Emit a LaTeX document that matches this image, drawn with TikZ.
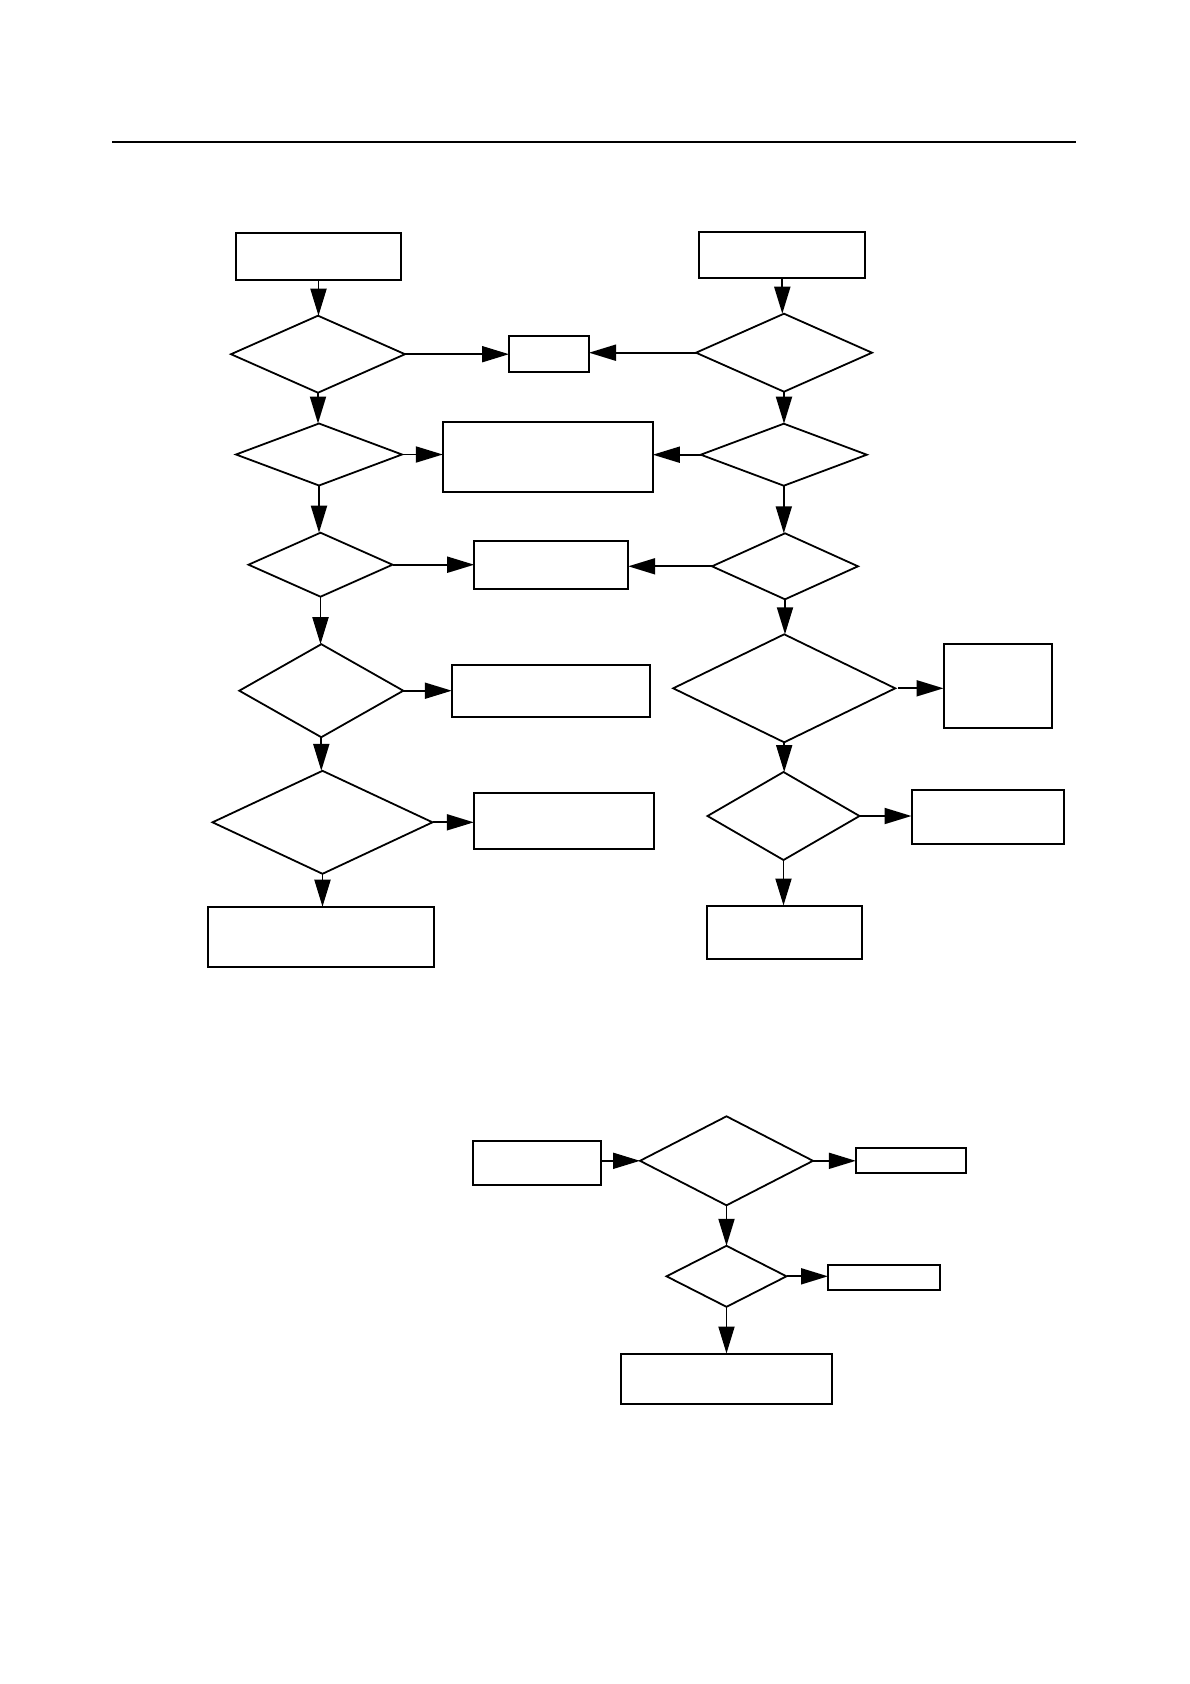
\documentclass[tikz,border=0pt]{standalone}
\usetikzlibrary{shapes.geometric,arrows.meta}
\begin{document}
\begin{tikzpicture}[x=1pt,y=-1pt,
  box/.style={draw,rectangle,line width=2pt,inner sep=0pt,outer sep=0pt},
  dia/.style={draw,diamond,line width=1.8pt,inner sep=0pt,outer sep=0pt},
  arr/.style={line width=1.9pt,-{Triangle[length=27pt,width=16pt]}}]
\useasboundingbox (0,0) rectangle (1190,1684);
% top rule
\coordinate (L0) at (112,142);
\coordinate (L1) at (1076,142);
\draw[line width=2.4pt] (L0) -- (L1);
% left column
\node[box,minimum width=165pt,minimum height=47pt] (A1) at (318.5,256.5) {};
\node[dia,minimum width=174pt,minimum height=77pt] (D1) at (318,354.2) {};
\node[dia,minimum width=166pt,minimum height=62pt] (D2) at (319,454.5) {};
\node[dia,minimum width=144pt,minimum height=64pt] (D3) at (320.5,564.7) {};
\node[dia,minimum width=164pt,minimum height=93pt] (D4) at (321.3,690.7) {};
\node[dia,minimum width=220pt,minimum height=103pt] (D5) at (322.5,822.3) {};
\node[box,minimum width=226pt,minimum height=60pt] (E1) at (321.3,936.7) {};
% middle boxes
\node[box,minimum width=80pt,minimum height=36pt] (S1) at (549,354.2) {};
\node[box,minimum width=210pt,minimum height=70pt] (B2) at (547.8,456.8) {};
\node[box,minimum width=154pt,minimum height=48pt] (B3) at (551.2,565) {};
\node[box,minimum width=198pt,minimum height=52pt] (B4) at (550.8,691) {};
\node[box,minimum width=180pt,minimum height=56pt] (B5) at (563.8,820.8) {};
% right column
\node[box,minimum width=166pt,minimum height=46pt] (A2) at (782.3,254.8) {};
\node[dia,minimum width=176pt,minimum height=78pt] (R1) at (784,352.7) {};
\node[dia,minimum width=166pt,minimum height=62pt] (R2) at (783.8,454.7) {};
\node[dia,minimum width=146pt,minimum height=66pt] (R3) at (785,566.3) {};
\node[dia,minimum width=222pt,minimum height=108pt] (R4) at (784.2,688.3) {};
\node[dia,minimum width=152pt,minimum height=88pt] (R5) at (783.5,816) {};
\node[box,minimum width=155pt,minimum height=53pt] (E2) at (784.3,932) {};
\node[box,minimum width=108pt,minimum height=84pt] (Q4) at (997.5,685.8) {};
\node[box,minimum width=152pt,minimum height=54pt] (Q5) at (987.5,816.8) {};
% bottom group
\node[box,minimum width=128pt,minimum height=44pt] (C1) at (536.5,1162.8) {};
\node[dia,minimum width=173pt,minimum height=89pt] (CD1) at (726.5,1160.8) {};
\node[box,minimum width=110pt,minimum height=25pt] (C2) at (910.8,1160.2) {};
\node[dia,minimum width=120pt,minimum height=61pt] (CD2) at (726.5,1276.3) {};
\node[box,minimum width=112pt,minimum height=25pt] (C3) at (884,1277.2) {};
\node[box,minimum width=211pt,minimum height=50pt] (C4) at (726.3,1378.5) {};
% left connectors
\draw[arr] (A1.south) -- (A1.south |- D1.north);
\draw[arr] (D1.south) -- (D1.south |- D2.north);
\draw[arr] (D2.south) -- (D2.south |- D3.north);
\draw[arr] (D3.south) -- (D3.south |- D4.north);
\draw[arr] (D4.south) -- (D4.south |- D5.north);
\draw[arr] (D5.south) -- (D5.south |- E1.north);
\draw[arr] (D1.east) -- (S1.west |- D1.east);
\draw[arr] (D2.east) -- (B2.west |- D2.east);
\draw[arr] (D3.east) -- (B3.west |- D3.east);
\draw[arr] (D4.east) -- (B4.west |- D4.east);
\draw[arr] (D5.east) -- (B5.west |- D5.east);
% right connectors
\draw[arr] (A2.south) -- (A2.south |- R1.north);
\draw[arr] (R1.south) -- (R1.south |- R2.north);
\draw[arr] (R2.south) -- (R2.south |- R3.north);
\draw[arr] (R3.south) -- (R3.south |- R4.north);
\draw[arr] (R4.south) -- (R4.south |- R5.north);
\draw[arr] (R5.south) -- (R5.south |- E2.north);
\draw[arr] (R1.west) -- (S1.east |- R1.west);
\draw[arr] (R2.west) -- (B2.east |- R2.west);
\draw[arr] (R3.west) -- (B3.east |- R3.west);
\draw[arr,shorten <=3pt] (R4.east) -- (Q4.west |- R4.east);
\draw[arr] (R5.east) -- (Q5.west |- R5.east);
% bottom connectors
\draw[arr] (C1.east |- CD1.west) -- (CD1.west);
\draw[arr] (CD1.east) -- (C2.west |- CD1.east);
\draw[arr] (CD1.south) -- (CD1.south |- CD2.north);
\draw[arr] (CD2.east) -- (C3.west |- CD2.east);
\draw[arr] (CD2.south) -- (CD2.south |- C4.north);
\end{tikzpicture}
\end{document}
